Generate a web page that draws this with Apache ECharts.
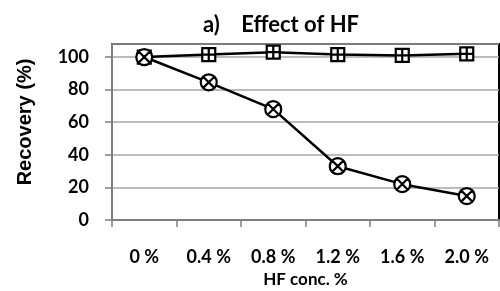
<!DOCTYPE html>
<html>
<head>
<meta charset="utf-8">
<script src="https://cdn.jsdelivr.net/npm/echarts@6/dist/echarts.min.js"></script>
<style>
  html, body { margin: 0; padding: 0; background: #fff; }
  #chart { width: 500px; height: 291px; }
</style>
</head>
<body>
<div id="chart"></div>
<script>
// categories and values
var hfConc = ['0 %', '0.4 %', '0.8 %', '1.2 %', '1.6 %', '2.0 %'];
var squareSeries = [100, 101.5, 103, 101.5, 101, 102];
var crossSeries = [100, 84.5, 68, 33, 22, 14.7];
var yTicks = [0, 20, 40, 60, 80, 100];

var circleX = 'path://M0,10 A10,10 0 1,1 20,10 A10,10 0 1,1 0,10 Z M3,3 L17,17 M17,3 L3,17';
var squarePlus = 'path://M0,0 L20,0 L20,20 L0,20 Z M10,0 L10,20 M0,10 L20,10';

var myChart = echarts.init(document.getElementById('chart'));

var option = {
  animation: false,
  title: {
    text: 'a)    Effect of HF',
    left: 198,
    top: 9,
    textStyle: { fontFamily: 'Lato', fontWeight: 'bold', fontSize: 22, color: '#000' }
  },
  grid: {
    left: 112, right: 1, top: 44, bottom: 71,
    outerBoundsMode: 'none',
    containLabel: false,
    show: true, borderColor: '#000', borderWidth: 2
  },
  xAxis: {
    type: 'category',
    data: hfConc,
    boundaryGap: true,
    name: 'HF conc. %',
    nameLocation: 'middle',
    nameGap: 51,
    nameTextStyle: { fontFamily: 'Lato', fontWeight: 'bold', fontSize: 17, color: '#000' },
    axisLine: { lineStyle: { color: '#7f7f7f', width: 2 } },
    axisTick: { show: true, length: 7, lineStyle: { color: '#7f7f7f', width: 1.5 } },
    axisLabel: { margin: 28, fontFamily: 'Lato', fontWeight: 'bold', fontSize: 18, color: '#000' }
  },
  yAxis: {
    type: 'value',
    min: 0,
    max: 108,
    interval: 20,
    name: 'Recovery (%)',
    nameLocation: 'middle',
    nameGap: 77,
    nameTextStyle: { fontFamily: 'Liberation Sans', fontWeight: 'bold', fontSize: 20, color: '#000', padding: [0, 0, 0, 20] },
    axisLine: { show: true, lineStyle: { color: '#7f7f7f', width: 2 } },
    axisTick: { show: true, length: 7, lineStyle: { color: '#7f7f7f', width: 1.5 } },
    axisLabel: {
      margin: 23,
      showMaxLabel: false,
      fontFamily: 'Lato', fontWeight: 'bold', fontSize: 18, color: '#000',
      formatter: function (v) { return yTicks.indexOf(v) >= 0 ? String(v) : ''; }
    },
    splitLine: { lineStyle: { color: '#a6a6a6', width: 1.5 } }
  },
  series: [
    {
      name: 'HF square',
      type: 'line',
      data: squareSeries,
      symbol: squarePlus,
      symbolSize: 13,
      lineStyle: { color: '#000', width: 2.5 },
      itemStyle: { color: '#fff', borderColor: '#000', borderWidth: 2.2 }
    },
    {
      name: 'HF cross',
      type: 'line',
      data: crossSeries,
      symbol: circleX,
      symbolSize: 16,
      lineStyle: { color: '#000', width: 2.5 },
      itemStyle: { color: '#fff', borderColor: '#000', borderWidth: 2.2 }
    }
  ]
};
myChart.setOption(option);
</script>
</body>
</html>
